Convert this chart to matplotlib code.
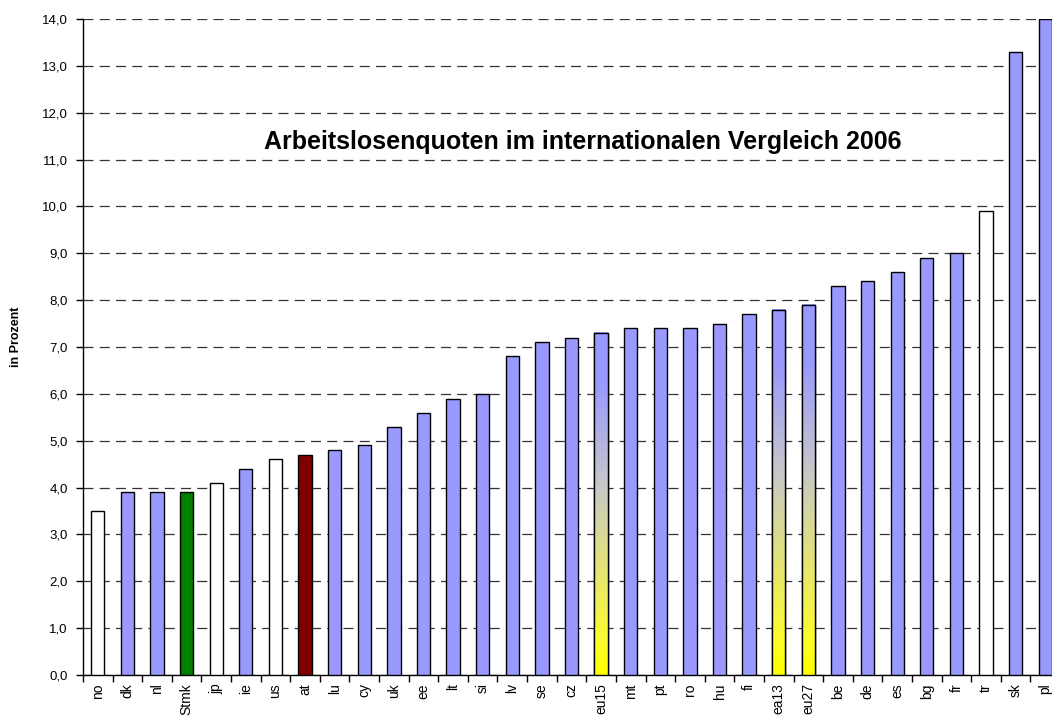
import numpy as np
import matplotlib
matplotlib.use("Agg")
import matplotlib.pyplot as plt
from matplotlib.patches import Rectangle
from matplotlib.colors import LinearSegmentedColormap

plt.rcParams['font.family'] = ['Liberation Sans', 'DejaVu Sans']

# data
countries = ["no", "dk", "nl", "Stmk", "jp", "ie", "us", "at", "lu", "cy", "uk",
             "ee", "lt", "si", "lv", "se", "cz", "eu15", "mt", "pt", "ro", "hu",
             "fi", "ea13", "eu27", "be", "de", "es", "bg", "fr", "tr", "sk", "pl"]
rates = [3.5, 3.9, 3.9, 3.9, 4.1, 4.4, 4.6, 4.7, 4.8, 4.9, 5.3,
         5.6, 5.9, 6.0, 6.8, 7.1, 7.2, 7.3, 7.4, 7.4, 7.4, 7.5,
         7.7, 7.8, 7.9, 8.3, 8.4, 8.6, 8.9, 9.0, 9.9, 13.3, 14.0]
white_ones = ["no", "jp", "us", "tr"]
gradient_ones = ["eu15", "ea13", "eu27"]
special = {"Stmk": "#008000", "at": "#800000"}

BLUE = "#9999FF"
grad_cmap = LinearSegmentedColormap.from_list(
    "yb", [(0.0, "#FFFF00"), (0.1, "#FCFC30"), (0.55, "#C8C8C8"), (0.85, BLUE), (1.0, BLUE)])

fig = plt.figure(figsize=(10.52, 7.2), dpi=100)
ax = fig.add_axes([83 / 1052, 45 / 720, 977 / 1052, 656 / 720])

x = np.arange(len(countries))
colors = []
for c in countries:
    if c in white_ones:
        colors.append("white")
    elif c in special:
        colors.append(special[c])
    else:
        colors.append(BLUE)

width = 0.45
ax.bar(x, rates, width=width, color=colors, edgecolor="black", linewidth=1.0, zorder=3)

# gradient fill for the EU aggregates
grad = np.linspace(0, 1, 256).reshape(-1, 1)
for i, c in enumerate(countries):
    if c in gradient_ones:
        ax.imshow(grad, extent=(i - width / 2, i + width / 2, 0, rates[i]),
                  origin="lower", aspect="auto", cmap=grad_cmap, zorder=3.5)
        ax.add_patch(Rectangle((i - width / 2, 0), width, rates[i], fill=False,
                               edgecolor="black", linewidth=1.0, zorder=4))

ax.set_xlim(-0.5, len(countries) - 0.5)
ax.set_ylim(0, 14)
yt = np.arange(0, 14.01, 1)
ax.set_yticks(yt)
ax.set_yticklabels([f"{v:.1f}".replace(".", ",") for v in yt], fontsize=9.5)
ax.set_xticks(x)
ax.set_xticklabels(countries, rotation=90, fontsize=10)
ax.set_xticks(np.arange(-0.5, len(countries), 1), minor=True)
ax.tick_params(axis="x", which="major", length=0, pad=6)
ax.tick_params(axis="x", which="minor", length=5, direction="out", width=1)
ax.tick_params(axis="y", length=5, direction="out", width=1, pad=6)

ax.yaxis.grid(True, linestyle=(0, (8, 5)), color="#333333", linewidth=0.9)
ax.set_axisbelow(True)
for s in ["top", "right"]:
    ax.spines[s].set_visible(False)
ax.spines["left"].set_linewidth(1.0)
ax.spines["bottom"].set_linewidth(1.0)

ax.set_ylabel("in Prozent", fontsize=9, fontweight="bold")
ax.yaxis.set_label_coords(-0.0625, 0.515)
ax.text(0.512, 0.8125, "Arbeitslosenquoten im internationalen Vergleich 2006",
        transform=ax.transAxes, ha="center", va="center",
        fontsize=18, fontweight="bold")

fig.savefig("out.png", dpi=100)
